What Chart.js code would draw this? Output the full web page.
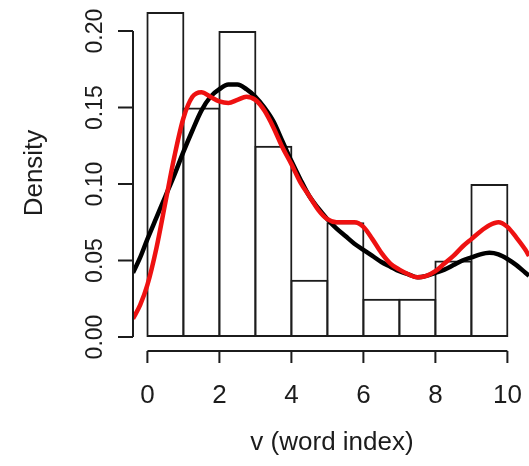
<!DOCTYPE html>
<html>
<head>
<meta charset="utf-8">
<script src="https://cdn.jsdelivr.net/npm/chart.js@4"></script>
<style>
  html, body { margin: 0; padding: 0; background: #fff; }
  #c { display: block; }
</style>
</head>
<body>
<canvas id="c" width="529" height="466"></canvas>
<script>
// Histogram of word index v (bin edges and density per bin)
const breaks = [0, 1, 2, 3, 4, 5, 6, 7, 8, 9, 10];
const densities = [0.2125, 0.15, 0.2, 0.125, 0.0375, 0.075, 0.025, 0.025, 0.05, 0.1];

// Kernel density estimates evaluated on a grid of v
const kdeX = [-0.4, -0.2, 0, 0.25, 0.5, 0.75, 1, 1.25, 1.5, 1.75, 2, 2.25, 2.5, 2.75, 3, 3.25,
  3.5, 3.75, 4, 4.25, 4.5, 4.75, 5, 5.25, 5.5, 5.75, 6, 6.25, 6.5, 6.75, 7, 7.25, 7.5, 7.75,
  8, 8.25, 8.5, 8.75, 9, 9.25, 9.5, 9.75, 10, 10.25, 10.5, 10.6];
// wide bandwidth (black)
const kdeWide = [0.042, 0.052, 0.064, 0.078, 0.092, 0.106, 0.121, 0.135, 0.148, 0.157, 0.162,
  0.165, 0.165, 0.162, 0.157, 0.150, 0.141, 0.128, 0.115, 0.103, 0.092, 0.084, 0.077, 0.071,
  0.066, 0.061, 0.057, 0.053, 0.049, 0.046, 0.043, 0.041, 0.039, 0.040, 0.042, 0.044, 0.047,
  0.050, 0.052, 0.054, 0.055, 0.054, 0.051, 0.047, 0.042, 0.040];
// narrow bandwidth (red)
const kdeNarrow = [0.012, 0.021, 0.034, 0.058, 0.088, 0.118, 0.143, 0.157, 0.160, 0.157, 0.154,
  0.153, 0.155, 0.157, 0.155, 0.148, 0.137, 0.124, 0.113, 0.101, 0.092, 0.083, 0.077, 0.075,
  0.075, 0.075, 0.072, 0.064, 0.055, 0.048, 0.044, 0.041, 0.039, 0.040, 0.043, 0.048, 0.053,
  0.059, 0.064, 0.069, 0.073, 0.075, 0.072, 0.065, 0.057, 0.053];

// Axis ticks and labels
const xTicks = [0, 2, 4, 6, 8, 10];
const xTickLabels = ['0', '2', '4', '6', '8', '10'];
const yTicks = [0, 0.05, 0.1, 0.15, 0.2];
const yTickLabels = ['0.00', '0.05', '0.10', '0.15', '0.20'];
const xTitle = 'v (word index)';
const yTitle = 'Density';

const histData = densities.map((d, i) => ({ x: (breaks[i] + breaks[i + 1]) / 2, y: d }));
const wideData = kdeX.map((x, i) => ({ x, y: kdeWide[i] }));
const narrowData = kdeX.map((x, i) => ({ x, y: kdeNarrow[i] }));

const FONT = '"Liberation Sans", Arial, Helvetica, sans-serif';
const INK = '#1c1c1c';

// R-style detached axes, drawn from the chart's scales
const baseAxes = {
  id: 'baseAxes',
  afterDraw(chart) {
    const { ctx, chartArea } = chart;
    const xs = chart.scales.x, ys = chart.scales.y;
    ctx.save();
    ctx.strokeStyle = INK;
    ctx.fillStyle = INK;
    ctx.lineWidth = 2;
    ctx.lineCap = 'butt';

    // y axis
    const ax = chartArea.left;
    ctx.beginPath();
    ctx.moveTo(ax, ys.getPixelForValue(yTicks[0]));
    ctx.lineTo(ax, ys.getPixelForValue(yTicks[yTicks.length - 1]));
    yTicks.forEach(v => {
      const py = ys.getPixelForValue(v);
      ctx.moveTo(ax, py);
      ctx.lineTo(ax - 15, py);
    });
    ctx.stroke();
    ctx.font = '23px ' + FONT;
    ctx.textAlign = 'center';
    ctx.textBaseline = 'alphabetic';
    yTicks.forEach((v, i) => {
      const py = ys.getPixelForValue(v);
      ctx.save();
      ctx.translate(102, py);
      ctx.rotate(-Math.PI / 2);
      ctx.fillText(yTickLabels[i], 0, 0);
      ctx.restore();
    });

    // x axis
    const ay = chartArea.bottom + 1;
    ctx.beginPath();
    ctx.moveTo(xs.getPixelForValue(xTicks[0]), ay);
    ctx.lineTo(xs.getPixelForValue(xTicks[xTicks.length - 1]), ay);
    xTicks.forEach(v => {
      const px = xs.getPixelForValue(v);
      ctx.moveTo(px, ay);
      ctx.lineTo(px, ay + 12);
    });
    ctx.stroke();
    ctx.font = '26px ' + FONT;
    xTicks.forEach((v, i) => {
      ctx.fillText(xTickLabels[i], xs.getPixelForValue(v), 403);
    });

    // titles
    ctx.fillText(xTitle, 332, 450);
    ctx.save();
    ctx.translate(42, 173);
    ctx.rotate(-Math.PI / 2);
    ctx.fillText(yTitle, 0, 0);
    ctx.restore();
    ctx.restore();
  }
};

new Chart(document.getElementById('c'), {
  data: {
    datasets: [
      {
        type: 'bar',
        data: histData,
        backgroundColor: 'rgba(0,0,0,0)',
        borderColor: INK,
        borderWidth: 2,
        borderSkipped: false,
        barPercentage: 1.0556,
        categoryPercentage: 1,
        order: 3
      },
      {
        type: 'line',
        data: wideData,
        borderColor: '#000000',
        borderWidth: 4.5,
        pointRadius: 0,
        fill: false,
        cubicInterpolationMode: 'monotone',
        order: 2
      },
      {
        type: 'line',
        data: narrowData,
        borderColor: '#ee1111',
        borderWidth: 4.5,
        pointRadius: 0,
        fill: false,
        cubicInterpolationMode: 'monotone',
        order: 1
      }
    ]
  },
  options: {
    responsive: false,
    animation: false,
    devicePixelRatio: 1,
    layout: { padding: { left: 133, right: 0, top: 0, bottom: 116 } },
    plugins: { legend: { display: false }, tooltip: { enabled: false } },
    scales: {
      x: { type: 'linear', display: false, offset: false, min: -0.4, max: 10.6, ticks: { stepSize: 1 } },
      y: { type: 'linear', display: false, min: -0.0085, max: 0.2203 }
    }
  },
  plugins: [baseAxes]
});
</script>
</body>
</html>
